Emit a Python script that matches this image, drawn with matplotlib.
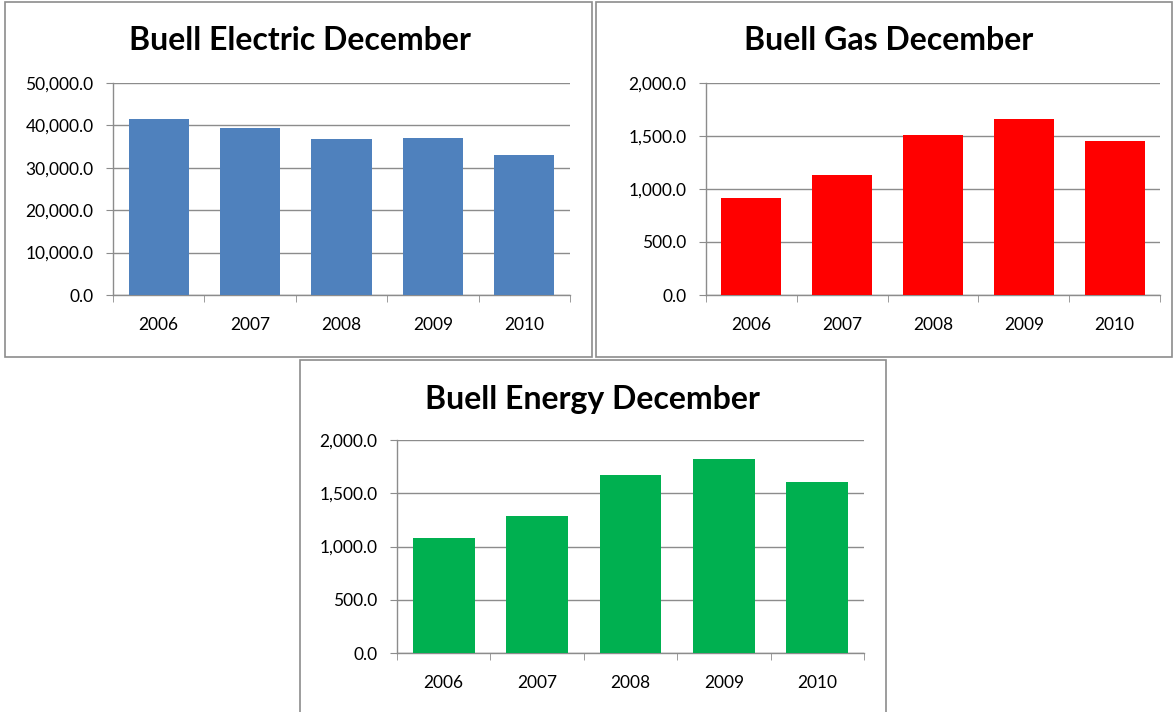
import numpy as np
import matplotlib.pyplot as plt
from matplotlib.patches import Rectangle
from matplotlib.ticker import FuncFormatter

years = ['2006', '2007', '2008', '2009', '2010']
electric = [41500, 39300, 36800, 36950, 33000]
gas = [915, 1129, 1506, 1657, 1456]
energy = [1079, 1286, 1670, 1824, 1604]

plt.rcParams['font.family'] = ['Lato', 'DejaVu Sans']

W, H = 1174, 712
fig = plt.figure(figsize=(W / 100, H / 100), dpi=100)


def px_axes(x0, x1, y_top, y_bot):
    return fig.add_axes([x0 / W, 1 - y_bot / H, (x1 - x0) / W, (y_bot - y_top) / H])


def box(x0, y0, x1, y1):
    fig.add_artist(Rectangle((x0 / W, 1 - y1 / H), (x1 - x0) / W, (y1 - y0) / H,
                             transform=fig.transFigure, fill=False,
                             edgecolor='#8c8c8c', linewidth=1.2))


def panel(ax, values, color, ymax, step, title, tx, ty):
    x = np.arange(len(years))
    ax.bar(x, values, width=0.66, color=color, zorder=3)
    ax.set_xlim(-0.5, len(years) - 0.5)
    ax.set_ylim(0, ymax)
    ax.set_yticks(np.arange(0, ymax + 1, step))
    ax.yaxis.set_major_formatter(FuncFormatter(lambda v, p: f'{v:,.1f}'))
    ax.grid(axis='y', color='#8c8c8c', linewidth=1, zorder=0)
    ax.set_xticks(x)
    ax.set_xticklabels(years)
    ax.set_xticks(np.arange(-0.5, len(years)), minor=True)
    ax.tick_params(axis='x', which='major', length=0, pad=16, labelsize=12.5)
    ax.tick_params(axis='x', which='minor', length=5, direction='out', color='#8c8c8c')
    ax.tick_params(axis='y', length=5, direction='out', color='#8c8c8c', labelsize=12.5, pad=9)
    for s in ['top', 'right']:
        ax.spines[s].set_visible(False)
    for s in ['left', 'bottom']:
        ax.spines[s].set_color('#8c8c8c')
        ax.spines[s].set_linewidth(1)
    fig.text(tx / W, 1 - ty / H, title, ha='center', va='center',
             fontsize=23, fontweight='bold')


box(5, 2, 592, 357)
box(596, 2, 1172, 357)
box(300, 360, 886, 720)

ax1 = px_axes(113, 570, 83, 295)
panel(ax1, electric, '#4F81BD', 50000, 10000, 'Buell Electric December', 300, 41)

ax2 = px_axes(706, 1160, 83, 295)
panel(ax2, gas, '#FF0000', 2000, 500, 'Buell Gas December', 889, 41)

ax3 = px_axes(397, 864, 440, 653)
panel(ax3, energy, '#00B050', 2000, 500, 'Buell Energy December', 592, 399)

fig.savefig('out.png', dpi=100)
